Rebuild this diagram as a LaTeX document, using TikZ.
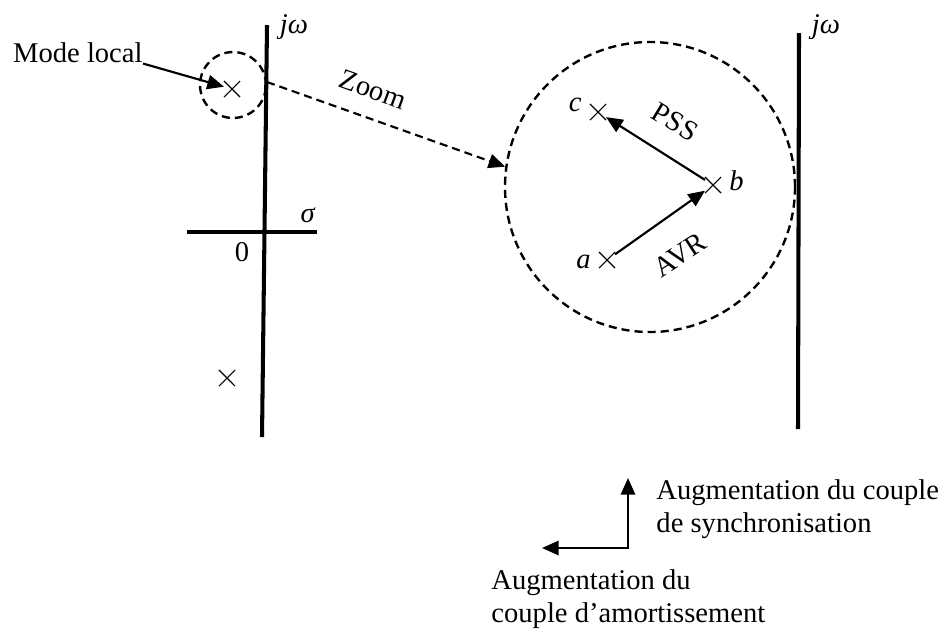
\documentclass[tikz,border=0pt]{standalone}
\usepackage{fontspec}
\setmainfont{Liberation Serif}
\usepackage{tikz}
\usetikzlibrary{arrows.meta,positioning,shapes.misc}

\begin{document}
\begin{tikzpicture}[x=0.42pt, y=-0.42pt, font=\fontsize{12}{14}\selectfont,
 axis/.style={line width=1.7pt},
 pole/.style={cross out, draw, line width=0.45pt, minimum size=6.3pt, inner sep=0pt},
 arr/.style={-{Triangle[length=7pt,width=6pt]}, line width=0.9pt},
 ring/.style={circle, draw, dash pattern=on 3.4pt off 2.1pt, line width=1pt, inner sep=0pt},
 tilted/.style={inner sep=0pt}]
 \useasboundingbox (0,0) rectangle (947,638);

 % Left plane
 \draw[axis] (267,25) -- (262,437);
 \draw[axis] (187,232) -- (317,232);
 \node (jwl) at (294,27) {\textit{jω}};
 \node (sig) at (308,215) {\textit{σ}};
 \node (orig) at (242,252) {0};

 % Poles of the left plane
 \node[pole] (lm) at (232,89) {};
 \node[pole] (low) at (227,378) {};
 \node[ring, minimum size=27.7pt] (ring) at (233,85) {};
 \node[anchor=east, inner sep=0pt] (ml) at (143,53) {Mode local};
 \draw[arr] (ml.south east) -- (lm);

 % Zoomed region
 \node[ring, minimum size=121.8pt] (bigring) at (650,187) {};
 \draw[arr, dash pattern=on 3.4pt off 2.1pt] (ring.5) -- (bigring.172);
 \node[tilted, rotate=-20] (zm) at (373,90) {Zoom};

 \node[pole] (a) at (607,260) {};
 \node[pole] (b) at (713,185) {};
 \node[pole] (c) at (598,112) {};
 \node[left=0pt of a, yshift=-1pt] {\textit{a}};
 \node[right=0pt of b, yshift=2pt] {\textit{b}};
 \node[left=0pt of c, yshift=3pt] {\textit{c}};
 \draw[arr] (a) -- (b);
 \draw[arr] (b) -- (c);
 \node[tilted, rotate=33] (avr) at (680,255) {AVR};
 \node[tilted, rotate=-31] (pss) at (675,122) {PSS};

 % Right plane
 \draw[axis] (799,33) -- (798,429);
 \node (jwr) at (826,27) {\textit{jω}};

 % Directions
 \coordinate (corner) at (628,548);
 \coordinate (up) at (628,478);
 \coordinate (lft) at (542,548);
 \draw[{Triangle[length=7pt,width=6pt]}-{Triangle[length=7pt,width=6pt]}, line width=0.9pt] (up) -- (corner) -- (lft);
 \node[anchor=west, align=left, inner sep=0pt] (sync) at (656,509) {Augmentation du couple\\de synchronisation};
 \node[anchor=west, align=left, inner sep=0pt] (damp) at (491,599) {Augmentation du\\couple d’amortissement};
\end{tikzpicture}
\end{document}
